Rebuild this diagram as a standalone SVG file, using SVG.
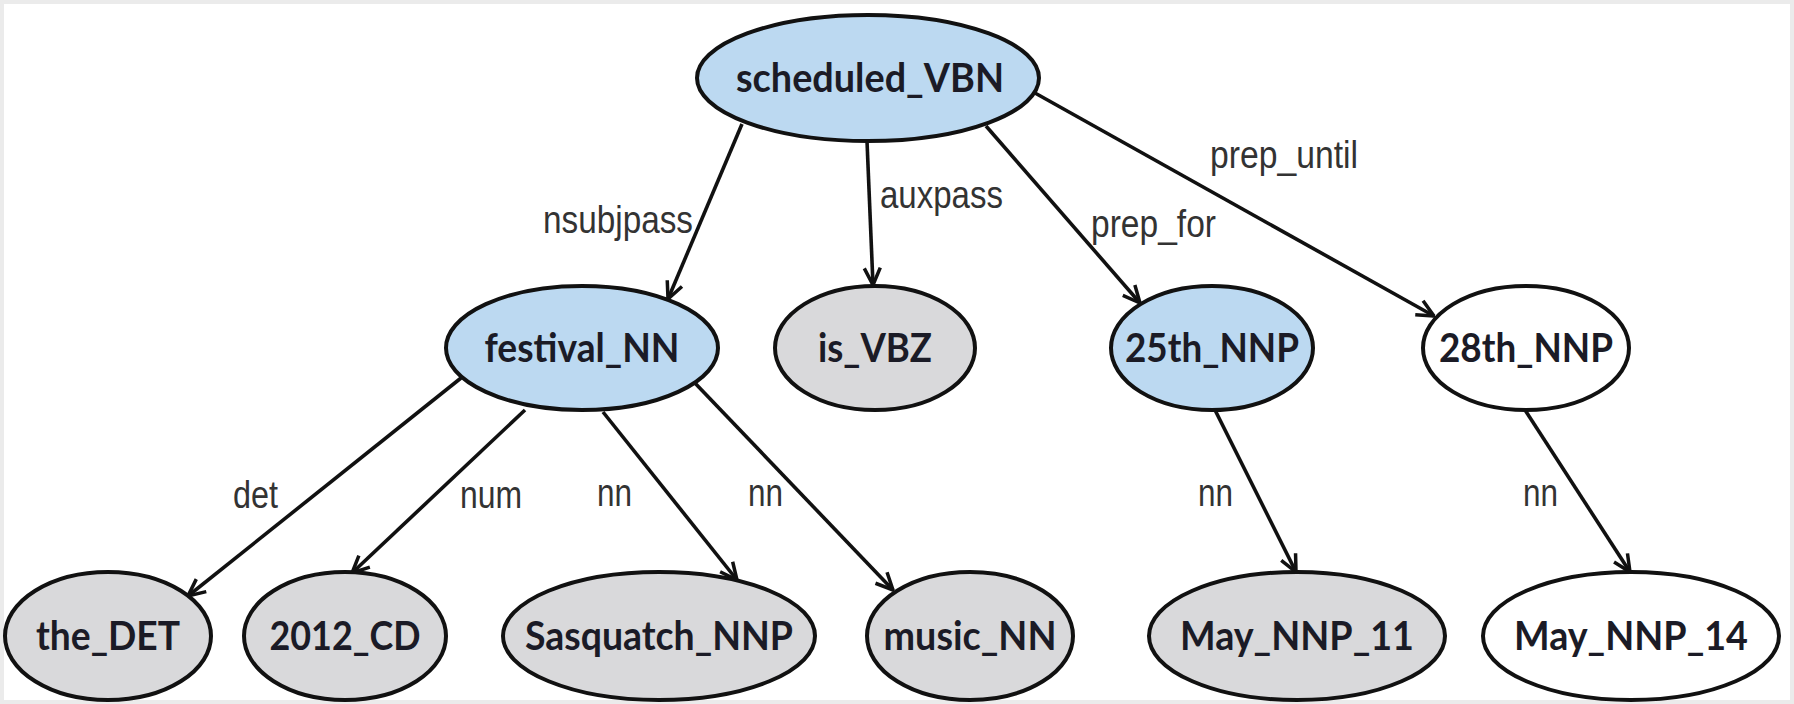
<svg xmlns="http://www.w3.org/2000/svg" width="1794" height="704" viewBox="0 0 1794 704">
<defs>
<marker id="arr" viewBox="0 0 20 20" refX="19" refY="10" markerWidth="20" markerHeight="20" markerUnits="userSpaceOnUse" orient="auto">
<path d="M2,2 L19,10 L2,18" fill="none" stroke="#111" stroke-width="3.5" stroke-linejoin="miter"/>
</marker>
<style>
.bg{fill:#ffffff}
.frame{fill:none;stroke:#ebebeb;stroke-width:8}
.node ellipse{stroke:#111;stroke-width:4}
.blue{fill:#bcd9f1}
.gray{fill:#d9d9db}
.white{fill:#ffffff}
.nl{font-family:Lato,"Open Sans",sans-serif;font-weight:700;font-size:41px;fill:#1b1b26;text-anchor:middle}
.edge{stroke:#111;stroke-width:3.6;fill:none;marker-end:url(#arr)}
.el{font-family:"Liberation Sans",Arial,sans-serif;font-size:38px;fill:#333}
</style>
</defs>
<rect class="bg" x="0" y="0" width="1794" height="704"/>
<rect class="frame" x="0" y="0" width="1794" height="704"/>

<g id="connectors">
<line class="edge" x1="742" y1="124" x2="668" y2="299"/>
<line class="edge" x1="867" y1="141" x2="873" y2="285"/>
<line class="edge" x1="986" y1="126" x2="1140" y2="303"/>
<line class="edge" x1="1035" y1="93" x2="1434" y2="316"/>
<line class="edge" x1="461" y1="378" x2="188" y2="596"/>
<line class="edge" x1="525" y1="410" x2="352" y2="573"/>
<line class="edge" x1="603" y1="412" x2="737" y2="580"/>
<line class="edge" x1="693" y1="381" x2="893" y2="590"/>
<line class="edge" x1="1215" y1="410" x2="1296" y2="572"/>
<line class="edge" x1="1525" y1="410" x2="1630" y2="572"/>
<text class="el" x="543" y="233" textLength="150" lengthAdjust="spacingAndGlyphs">nsubjpass</text>
<text class="el" x="880" y="208" textLength="123" lengthAdjust="spacingAndGlyphs">auxpass</text>
<text class="el" x="1091" y="237" textLength="125" lengthAdjust="spacingAndGlyphs">prep_for</text>
<text class="el" x="1210" y="168" textLength="148" lengthAdjust="spacingAndGlyphs">prep_until</text>
<text class="el" x="233" y="508" textLength="45" lengthAdjust="spacingAndGlyphs">det</text>
<text class="el" x="460" y="508" textLength="62" lengthAdjust="spacingAndGlyphs">num</text>
<text class="el" x="597" y="506" textLength="35" lengthAdjust="spacingAndGlyphs">nn</text>
<text class="el" x="748" y="506" textLength="35" lengthAdjust="spacingAndGlyphs">nn</text>
<text class="el" x="1198" y="506" textLength="35" lengthAdjust="spacingAndGlyphs">nn</text>
<text class="el" x="1523" y="506" textLength="35" lengthAdjust="spacingAndGlyphs">nn</text>
</g>

<g id="scheduled_VBN" class="node"><ellipse class="blue" cx="868" cy="78" rx="171" ry="63"/><text class="nl" x="870" y="92" textLength="268" lengthAdjust="spacingAndGlyphs">scheduled_VBN</text></g>
<g id="festival_NN" class="node"><ellipse class="blue" cx="582" cy="348" rx="136" ry="62"/><text class="nl" x="582" y="362" textLength="195" lengthAdjust="spacingAndGlyphs">festival_NN</text></g>
<g id="is_VBZ" class="node"><ellipse class="gray" cx="875" cy="348" rx="100" ry="62"/><text class="nl" x="875" y="362" textLength="114" lengthAdjust="spacingAndGlyphs">is_VBZ</text></g>
<g id="25th_NNP" class="node"><ellipse class="blue" cx="1212" cy="348" rx="101" ry="62"/><text class="nl" x="1212" y="362" textLength="174" lengthAdjust="spacingAndGlyphs">25th_NNP</text></g>
<g id="28th_NNP" class="node"><ellipse class="white" cx="1526" cy="348" rx="103" ry="62"/><text class="nl" x="1526" y="362" textLength="174" lengthAdjust="spacingAndGlyphs">28th_NNP</text></g>
<g id="the_DET" class="node"><ellipse class="gray" cx="108" cy="636" rx="103" ry="64"/><text class="nl" x="108" y="650" textLength="144" lengthAdjust="spacingAndGlyphs">the_DET</text></g>
<g id="2012_CD" class="node"><ellipse class="gray" cx="345" cy="636" rx="101" ry="64"/><text class="nl" x="345" y="650" textLength="151" lengthAdjust="spacingAndGlyphs">2012_CD</text></g>
<g id="Sasquatch_NNP" class="node"><ellipse class="gray" cx="659" cy="636" rx="156" ry="64"/><text class="nl" x="659" y="650" textLength="268" lengthAdjust="spacingAndGlyphs">Sasquatch_NNP</text></g>
<g id="music_NN" class="node"><ellipse class="gray" cx="970" cy="636" rx="103" ry="64"/><text class="nl" x="970" y="650" textLength="173" lengthAdjust="spacingAndGlyphs">music_NN</text></g>
<g id="May_NNP_11" class="node"><ellipse class="gray" cx="1297" cy="636" rx="148" ry="64"/><text class="nl" x="1297" y="650" textLength="234" lengthAdjust="spacingAndGlyphs">May_NNP_11</text></g>
<g id="May_NNP_14" class="node"><ellipse class="white" cx="1631" cy="636" rx="148" ry="64"/><text class="nl" x="1631" y="650" textLength="234" lengthAdjust="spacingAndGlyphs">May_NNP_14</text></g>
</svg>
